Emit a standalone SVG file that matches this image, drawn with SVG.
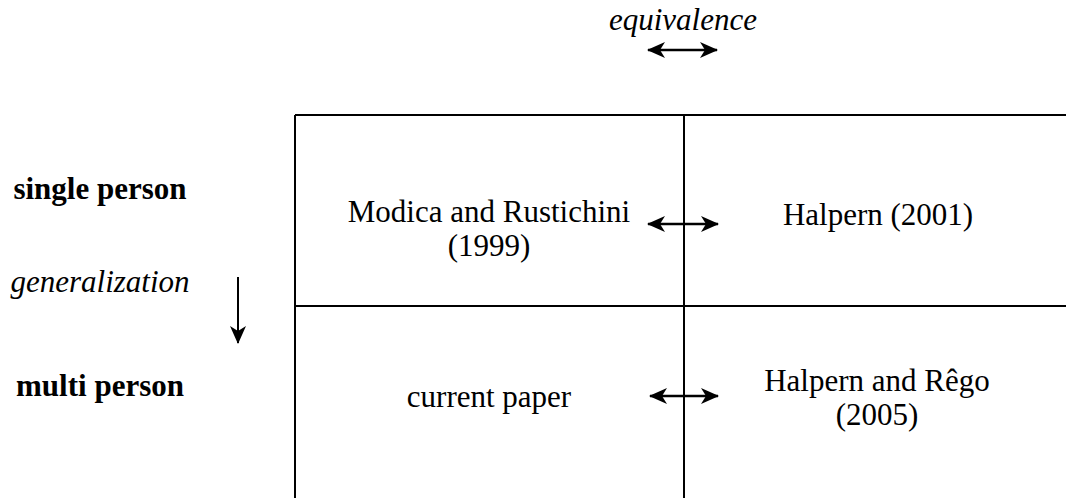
<svg xmlns="http://www.w3.org/2000/svg" width="1066" height="498" viewBox="0 0 1066 498">
<style>
text{font-family:"Liberation Serif","Times New Roman",serif;font-size:31px;fill:#000}
.b{font-weight:bold}
.i{font-style:italic}
.m{text-anchor:middle}
.ln{stroke:#000;stroke-width:2;fill:none}
.ar{stroke:#000;stroke-width:2.4;fill:none;marker-end:url(#ah);marker-start:url(#ah)}
</style>
<defs>
<marker id="ah" viewBox="0 0 18 16" refX="17" refY="8" markerWidth="18" markerHeight="16" orient="auto-start-reverse" markerUnits="userSpaceOnUse">
<path d="M0,0 L18,8 L0,16 L5,8 Z" fill="#000"/>
</marker>
<marker id="ad" viewBox="0 0 18 16" refX="17" refY="8" markerWidth="18" markerHeight="16" orient="auto" markerUnits="userSpaceOnUse">
<path d="M0,0 L18,8 L0,16 L5,8 Z" fill="#000"/>
</marker>
</defs>
<g id="grid">
<line class="ln" x1="295" y1="115" x2="1066" y2="115"/>
<line class="ln" x1="295" y1="306" x2="1066" y2="306"/>
<line class="ln" x1="295" y1="115" x2="295" y2="498"/>
<line class="ln" x1="684" y1="115" x2="684" y2="498"/>
</g>
<g id="labels">
<text class="i m" x="683" y="30">equivalence</text>
<text class="b m" x="100" y="199">single person</text>
<text class="i m" x="100" y="292">generalization</text>
<text class="b m" x="100" y="396">multi person</text>
</g>
<g id="n-modica"><text class="m" x="489" y="222">Modica and Rustichini</text><text class="m" x="489" y="256">(1999)</text></g>
<g id="n-halpern2001"><text class="m" x="878" y="225">Halpern (2001)</text></g>
<g id="n-current"><text class="m" x="489" y="407">current paper</text></g>
<g id="n-halpernrego"><text class="m" x="877" y="391">Halpern and Rêgo</text><text class="m" x="877" y="425">(2005)</text></g>
<g id="connectors">
<line class="ar" x1="648" y1="50" x2="717" y2="50"/>
<line class="ar" x1="648" y1="224" x2="718" y2="224"/>
<line class="ar" x1="650" y1="396" x2="718" y2="396"/>
<line class="ln" x1="238" y1="277" x2="238" y2="343" marker-end="url(#ad)"/>
</g>
</svg>
